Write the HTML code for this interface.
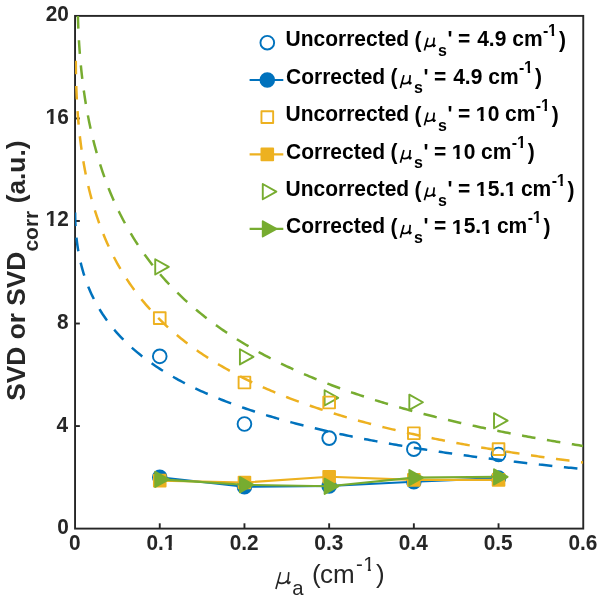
<!DOCTYPE html>
<html><head><meta charset="utf-8"><style>
html,body{margin:0;padding:0;background:#fff;}
svg{display:block;will-change:transform;}
</style></head><body>
<svg width="604" height="603" viewBox="0 0 604 603">
<defs><clipPath id="clip"><rect x="75.05" y="15.9" width="508.20" height="512.70"/></clipPath>
<clipPath id="c1" clipPathUnits="objectBoundingBox"><path d="M-0.5,-0.5 H1.5 V0.665 H0.672 V1.5 H0.405 V0.665 H-0.5 Z"/></clipPath></defs>
<rect width="604" height="603" fill="#fff"/>
<rect x="75.05" y="15.9" width="508.20" height="512.70" fill="none" stroke="#262626" stroke-width="1.9"/>
<line x1="159.75" y1="528.6" x2="159.75" y2="523.3000000000001" stroke="#262626" stroke-width="1.9"/>
<line x1="244.45" y1="528.6" x2="244.45" y2="523.3000000000001" stroke="#262626" stroke-width="1.9"/>
<line x1="329.15" y1="528.6" x2="329.15" y2="523.3000000000001" stroke="#262626" stroke-width="1.9"/>
<line x1="413.85" y1="528.6" x2="413.85" y2="523.3000000000001" stroke="#262626" stroke-width="1.9"/>
<line x1="498.55" y1="528.6" x2="498.55" y2="523.3000000000001" stroke="#262626" stroke-width="1.9"/>
<line x1="75.05" y1="426.06" x2="79.85" y2="426.06" stroke="#262626" stroke-width="1.9"/>
<line x1="75.05" y1="323.52" x2="79.85" y2="323.52" stroke="#262626" stroke-width="1.9"/>
<line x1="75.05" y1="220.98" x2="79.85" y2="220.98" stroke="#262626" stroke-width="1.9"/>
<line x1="75.05" y1="118.44" x2="79.85" y2="118.44" stroke="#262626" stroke-width="1.9"/>
<circle cx="159.75" cy="356.33" r="6.85" fill="none" stroke="#0072BD" stroke-width="1.9"/>
<circle cx="244.45" cy="424.01" r="6.85" fill="none" stroke="#0072BD" stroke-width="1.9"/>
<circle cx="329.15" cy="438.11" r="6.85" fill="none" stroke="#0072BD" stroke-width="1.9"/>
<circle cx="413.85" cy="449.13" r="6.85" fill="none" stroke="#0072BD" stroke-width="1.9"/>
<circle cx="498.55" cy="454.51" r="6.85" fill="none" stroke="#0072BD" stroke-width="1.9"/>
<polyline points="159.75,477.33 244.45,486.81 329.15,486.05 413.85,481.69 498.55,478.10" fill="none" stroke="#0072BD" stroke-width="2.1" stroke-linejoin="round"/>
<circle cx="159.75" cy="477.33" r="6.85" fill="#0072BD" stroke="#0072BD" stroke-width="1.9"/>
<circle cx="244.45" cy="486.81" r="6.85" fill="#0072BD" stroke="#0072BD" stroke-width="1.9"/>
<circle cx="329.15" cy="486.05" r="6.85" fill="#0072BD" stroke="#0072BD" stroke-width="1.9"/>
<circle cx="413.85" cy="481.69" r="6.85" fill="#0072BD" stroke="#0072BD" stroke-width="1.9"/>
<circle cx="498.55" cy="478.10" r="6.85" fill="#0072BD" stroke="#0072BD" stroke-width="1.9"/>
<path d="M155.22,259.27 L168.82,266.87 L155.22,274.47 Z" fill="none" stroke="#77AC30" stroke-width="1.9" stroke-linejoin="round"/>
<path d="M239.92,349.25 L253.52,356.85 L239.92,364.45 Z" fill="none" stroke="#77AC30" stroke-width="1.9" stroke-linejoin="round"/>
<path d="M324.62,390.26 L338.22,397.86 L324.62,405.46 Z" fill="none" stroke="#77AC30" stroke-width="1.9" stroke-linejoin="round"/>
<path d="M409.32,394.62 L422.92,402.22 L409.32,409.82 Z" fill="none" stroke="#77AC30" stroke-width="1.9" stroke-linejoin="round"/>
<path d="M494.02,413.08 L507.62,420.68 L494.02,428.28 Z" fill="none" stroke="#77AC30" stroke-width="1.9" stroke-linejoin="round"/>
<rect x="153.90" y="312.29" width="11.7" height="11.7" fill="none" stroke="#EDB120" stroke-width="1.9" stroke-linejoin="round"/>
<rect x="238.60" y="376.63" width="11.7" height="11.7" fill="none" stroke="#EDB120" stroke-width="1.9" stroke-linejoin="round"/>
<rect x="323.30" y="396.63" width="11.7" height="11.7" fill="none" stroke="#EDB120" stroke-width="1.9" stroke-linejoin="round"/>
<rect x="408.00" y="427.39" width="11.7" height="11.7" fill="none" stroke="#EDB120" stroke-width="1.9" stroke-linejoin="round"/>
<rect x="492.70" y="443.28" width="11.7" height="11.7" fill="none" stroke="#EDB120" stroke-width="1.9" stroke-linejoin="round"/>
<polyline points="159.75,480.66 244.45,482.46 329.15,476.82 413.85,479.89 498.55,479.89" fill="none" stroke="#EDB120" stroke-width="2.1" stroke-linejoin="round"/>
<rect x="153.90" y="474.81" width="11.7" height="11.7" fill="#EDB120" stroke="#EDB120" stroke-width="1.9" stroke-linejoin="round"/>
<rect x="238.60" y="476.61" width="11.7" height="11.7" fill="#EDB120" stroke="#EDB120" stroke-width="1.9" stroke-linejoin="round"/>
<rect x="323.30" y="470.97" width="11.7" height="11.7" fill="#EDB120" stroke="#EDB120" stroke-width="1.9" stroke-linejoin="round"/>
<rect x="408.00" y="474.04" width="11.7" height="11.7" fill="#EDB120" stroke="#EDB120" stroke-width="1.9" stroke-linejoin="round"/>
<rect x="492.70" y="474.04" width="11.7" height="11.7" fill="#EDB120" stroke="#EDB120" stroke-width="1.9" stroke-linejoin="round"/>
<polyline points="159.75,479.38 244.45,484.76 329.15,486.30 413.85,477.59 498.55,476.82" fill="none" stroke="#77AC30" stroke-width="2.1" stroke-linejoin="round"/>
<path d="M155.22,471.78 L168.82,479.38 L155.22,486.98 Z" fill="#77AC30" stroke="#77AC30" stroke-width="1.9" stroke-linejoin="round"/>
<path d="M239.92,477.16 L253.52,484.76 L239.92,492.36 Z" fill="#77AC30" stroke="#77AC30" stroke-width="1.9" stroke-linejoin="round"/>
<path d="M324.62,478.70 L338.22,486.30 L324.62,493.90 Z" fill="#77AC30" stroke="#77AC30" stroke-width="1.9" stroke-linejoin="round"/>
<path d="M409.32,469.99 L422.92,477.59 L409.32,485.19 Z" fill="#77AC30" stroke="#77AC30" stroke-width="1.9" stroke-linejoin="round"/>
<path d="M494.02,469.22 L507.62,476.82 L494.02,484.42 Z" fill="#77AC30" stroke="#77AC30" stroke-width="1.9" stroke-linejoin="round"/>
<g clip-path="url(#clip)" fill="none" stroke-width="2.5" stroke-dasharray="13.6 11.63">
<path d="M75.13,211.26 L75.13,211.32 L75.13,211.35 L75.13,211.37 L75.13,211.39 L75.13,211.41 L75.13,211.43 L75.13,211.45 L75.13,211.46 L75.13,211.48 L75.13,211.50 L75.13,211.52 L75.13,211.53 L75.13,211.55 L75.13,211.57 L75.13,211.59 L75.13,211.61 L75.13,211.63 L75.13,211.64 L75.13,211.66 L75.13,211.69 L75.13,211.71 L75.13,211.73 L75.13,211.75 L75.13,211.77 L75.14,211.80 L75.14,211.82 L75.14,211.85 L75.14,211.87 L75.14,211.90 L75.14,211.93 L75.14,211.96 L75.14,211.99 L75.14,212.02 L75.14,212.05 L75.14,212.08 L75.14,212.12 L75.14,212.15 L75.14,212.19 L75.14,212.23 L75.14,212.27 L75.14,212.31 L75.14,212.35 L75.14,212.40 L75.14,212.44 L75.14,212.49 L75.14,212.54 L75.14,212.59 L75.14,212.64 L75.14,212.70 L75.14,212.76 L75.14,212.82 L75.14,212.88 L75.14,212.94 L75.14,213.01 L75.14,213.08 L75.14,213.15 L75.14,213.22 L75.14,213.30 L75.14,213.38 L75.14,213.47 L75.14,213.55 L75.14,213.64 L75.15,213.74 L75.15,213.83 L75.15,213.93 L75.15,214.04 L75.15,214.15 L75.15,214.26 L75.15,214.37 L75.15,214.50 L75.15,214.62 L75.16,214.75 L75.16,214.89 L75.16,215.03 L75.16,215.18 L75.16,215.33 L75.17,215.49 L75.17,215.65 L75.17,215.82 L75.17,216.00 L75.18,216.18 L75.18,216.37 L75.18,216.57 L75.19,216.77 L75.19,216.99 L75.20,217.21 L75.20,217.44 L75.21,217.68 L75.21,217.93 L75.22,218.18 L75.23,218.45 L75.23,218.73 L75.24,219.01 L75.25,219.31 L75.26,219.62 L75.27,219.94 L75.28,220.28 L75.29,220.62 L75.30,220.98 L75.32,221.35 L75.33,221.74 L75.35,222.14 L75.36,222.56 L75.38,222.99 L75.40,223.44 L75.42,223.90 L75.45,224.39 L75.47,224.89 L75.50,225.41 L75.53,225.94 L75.56,226.50 L75.59,227.08 L75.63,227.68 L75.67,228.30 L75.71,228.95 L75.76,229.62 L75.81,230.31 L75.86,231.03 L75.92,231.77 L75.98,232.54 L76.05,233.34 L76.12,234.17 L76.20,235.03 L76.29,235.92 L76.38,236.84 L76.48,237.79 L76.59,238.78 L76.70,239.80 L76.83,240.86 L76.96,241.96 L77.11,243.09 L77.27,244.26 L77.44,245.48 L77.62,246.73 L77.82,248.03 L78.03,249.37 L78.26,250.76 L78.51,252.19 L78.78,253.68 L79.07,255.21 L79.39,256.79 L79.73,258.43 L80.09,260.11 L80.49,261.86 L80.92,263.65 L81.38,265.51 L81.88,267.42 L82.42,269.40 L83.00,271.43 L83.62,273.53 L84.30,275.69 L85.03,277.91 L85.82,280.21 L86.67,282.56 L87.60,284.99 L88.59,287.49 L89.66,290.05 L90.82,292.69 L92.07,295.40 L94.13,299.57 L96.18,303.46 L98.24,307.09 L100.30,310.52 L102.35,313.75 L104.41,316.82 L106.46,319.74 L108.52,322.53 L110.57,325.20 L112.63,327.76 L114.68,330.21 L116.74,332.58 L118.79,334.86 L120.85,337.06 L122.90,339.19 L124.96,341.25 L127.01,343.24 L129.07,345.18 L131.12,347.06 L133.18,348.88 L135.23,350.66 L137.29,352.39 L139.34,354.07 L141.40,355.71 L143.45,357.31 L145.51,358.87 L147.56,360.40 L149.62,361.89 L151.67,363.35 L153.73,364.77 L155.78,366.17 L157.84,367.53 L159.89,368.87 L161.95,370.18 L164.00,371.46 L166.06,372.72 L168.11,373.96 L170.17,375.17 L172.22,376.36 L174.28,377.52 L176.33,378.67 L178.39,379.80 L180.45,380.90 L182.50,381.99 L184.56,383.06 L186.61,384.11 L188.67,385.15 L190.72,386.16 L192.78,387.16 L194.83,388.15 L196.89,389.12 L198.94,390.08 L201.00,391.02 L203.05,391.95 L205.11,392.86 L207.16,393.76 L209.22,394.65 L211.27,395.52 L213.33,396.39 L215.38,397.24 L217.44,398.08 L219.49,398.90 L221.55,399.72 L223.60,400.53 L225.66,401.32 L227.71,402.11 L229.77,402.88 L231.82,403.65 L233.88,404.40 L235.93,405.15 L237.99,405.88 L240.04,406.61 L242.10,407.33 L244.15,408.04 L246.21,408.74 L248.26,409.44 L250.32,410.12 L252.37,410.80 L254.43,411.47 L256.48,412.13 L258.54,412.79 L260.59,413.43 L262.65,414.07 L264.71,414.71 L266.76,415.33 L268.82,415.95 L270.87,416.56 L272.93,417.17 L274.98,417.77 L277.04,418.36 L279.09,418.95 L281.15,419.53 L283.20,420.11 L285.26,420.68 L287.31,421.24 L289.37,421.80 L291.42,422.35 L293.48,422.90 L295.53,423.44 L297.59,423.98 L299.64,424.51 L301.70,425.03 L303.75,425.55 L305.81,426.07 L307.86,426.58 L309.92,427.09 L311.97,427.59 L314.03,428.09 L316.08,428.58 L318.14,429.07 L320.19,429.55 L322.25,430.03 L324.30,430.50 L326.36,430.98 L328.41,431.44 L330.47,431.90 L332.52,432.36 L334.58,432.82 L336.63,433.27 L338.69,433.71 L340.74,434.16 L342.80,434.59 L344.86,435.03 L346.91,435.46 L348.97,435.89 L351.02,436.31 L353.08,436.73 L355.13,437.15 L357.19,437.57 L359.24,437.98 L361.30,438.38 L363.35,438.79 L365.41,439.19 L367.46,439.58 L369.52,439.98 L371.57,440.37 L373.63,440.76 L375.68,441.14 L377.74,441.53 L379.79,441.90 L381.85,442.28 L383.90,442.65 L385.96,443.02 L388.01,443.39 L390.07,443.76 L392.12,444.12 L394.18,444.48 L396.23,444.84 L398.29,445.19 L400.34,445.54 L402.40,445.89 L404.45,446.24 L406.51,446.58 L408.56,446.92 L410.62,447.26 L412.67,447.60 L414.73,447.93 L416.78,448.26 L418.84,448.59 L420.89,448.92 L422.95,449.24 L425.01,449.56 L427.06,449.88 L429.12,450.20 L431.17,450.52 L433.23,450.83 L435.28,451.14 L437.34,451.45 L439.39,451.76 L441.45,452.06 L443.50,452.37 L445.56,452.67 L447.61,452.97 L449.67,453.26 L451.72,453.56 L453.78,453.85 L455.83,454.14 L457.89,454.43 L459.94,454.72 L462.00,455.00 L464.05,455.29 L466.11,455.57 L468.16,455.85 L470.22,456.13 L472.27,456.40 L474.33,456.68 L476.38,456.95 L478.44,457.22 L480.49,457.49 L482.55,457.76 L484.60,458.02 L486.66,458.29 L488.71,458.55 L490.77,458.81 L492.82,459.07 L494.88,459.33 L496.93,459.58 L498.99,459.84 L501.04,460.09 L503.10,460.34 L505.16,460.59 L507.21,460.84 L509.27,461.09 L511.32,461.33 L513.38,461.58 L515.43,461.82 L517.49,462.06 L519.54,462.30 L521.60,462.54 L523.65,462.77 L525.71,463.01 L527.76,463.24 L529.82,463.48 L531.87,463.71 L533.93,463.94 L535.98,464.17 L538.04,464.39 L540.09,464.62 L542.15,464.84 L544.20,465.07 L546.26,465.29 L548.31,465.51 L550.37,465.73 L552.42,465.95 L554.48,466.17 L556.53,466.38 L558.59,466.60 L560.64,466.81 L562.70,467.02 L564.75,467.23 L566.81,467.44 L568.86,467.65 L570.92,467.86 L572.97,468.07 L575.03,468.27 L577.08,468.48 L579.14,468.68 L581.19,468.88 L583.25,469.08" stroke="#0072BD" stroke-dashoffset="23.93"/>
<path d="M75.79,56.70 L75.79,56.83 L75.79,56.89 L75.79,56.93 L75.79,56.97 L75.79,57.01 L75.79,57.04 L75.79,57.08 L75.79,57.11 L75.79,57.14 L75.79,57.18 L75.79,57.21 L75.79,57.25 L75.79,57.28 L75.79,57.31 L75.79,57.35 L75.79,57.38 L75.79,57.42 L75.79,57.46 L75.79,57.50 L75.79,57.54 L75.79,57.58 L75.79,57.62 L75.79,57.66 L75.79,57.71 L75.79,57.75 L75.79,57.80 L75.79,57.85 L75.79,57.90 L75.79,57.95 L75.79,58.00 L75.79,58.06 L75.79,58.11 L75.79,58.17 L75.79,58.24 L75.79,58.30 L75.79,58.36 L75.79,58.43 L75.79,58.50 L75.79,58.57 L75.79,58.65 L75.79,58.73 L75.79,58.81 L75.79,58.89 L75.79,58.98 L75.79,59.07 L75.79,59.16 L75.79,59.26 L75.79,59.36 L75.79,59.46 L75.79,59.57 L75.79,59.68 L75.79,59.80 L75.79,59.92 L75.79,60.05 L75.79,60.18 L75.79,60.31 L75.79,60.45 L75.79,60.59 L75.79,60.74 L75.79,60.90 L75.79,61.06 L75.79,61.23 L75.80,61.40 L75.80,61.59 L75.80,61.77 L75.80,61.97 L75.80,62.17 L75.80,62.38 L75.80,62.60 L75.80,62.82 L75.80,63.06 L75.81,63.30 L75.81,63.55 L75.81,63.81 L75.81,64.08 L75.81,64.36 L75.82,64.66 L75.82,64.96 L75.82,65.27 L75.82,65.60 L75.83,65.94 L75.83,66.29 L75.83,66.65 L75.84,67.03 L75.84,67.42 L75.85,67.83 L75.85,68.25 L75.86,68.69 L75.86,69.14 L75.87,69.61 L75.88,70.10 L75.88,70.61 L75.89,71.13 L75.90,71.67 L75.91,72.24 L75.92,72.82 L75.93,73.43 L75.94,74.06 L75.95,74.71 L75.97,75.39 L75.98,76.09 L76.00,76.82 L76.02,77.57 L76.03,78.35 L76.05,79.16 L76.07,80.00 L76.10,80.87 L76.12,81.78 L76.15,82.71 L76.18,83.68 L76.21,84.68 L76.24,85.72 L76.28,86.79 L76.32,87.91 L76.36,89.06 L76.41,90.26 L76.46,91.50 L76.51,92.78 L76.57,94.10 L76.63,95.47 L76.70,96.90 L76.77,98.37 L76.85,99.89 L76.94,101.46 L77.03,103.09 L77.13,104.77 L77.24,106.51 L77.35,108.31 L77.48,110.18 L77.61,112.10 L77.76,114.09 L77.92,116.14 L78.09,118.26 L78.27,120.46 L78.47,122.72 L78.68,125.06 L78.91,127.47 L79.16,129.96 L79.43,132.53 L79.72,135.18 L80.04,137.91 L80.38,140.73 L80.74,143.63 L81.14,146.62 L81.57,149.70 L82.03,152.88 L82.53,156.14 L83.07,159.51 L83.65,162.97 L84.27,166.52 L84.95,170.18 L85.68,173.94 L86.47,177.80 L87.33,181.76 L88.25,185.83 L89.24,190.00 L90.31,194.28 L91.47,198.67 L92.72,203.16 L94.78,210.05 L96.83,216.44 L98.88,222.40 L100.93,227.99 L102.99,233.25 L105.04,238.23 L107.09,242.95 L109.14,247.45 L111.20,251.73 L113.25,255.83 L115.30,259.76 L117.35,263.54 L119.41,267.16 L121.46,270.66 L123.51,274.02 L125.56,277.28 L127.62,280.42 L129.67,283.47 L131.72,286.41 L133.77,289.27 L135.83,292.05 L137.88,294.75 L139.93,297.37 L141.98,299.92 L144.04,302.40 L146.09,304.82 L148.14,307.18 L150.19,309.48 L152.24,311.72 L154.30,313.91 L156.35,316.05 L158.40,318.14 L160.45,320.19 L162.51,322.19 L164.56,324.14 L166.61,326.06 L168.66,327.94 L170.72,329.77 L172.77,331.58 L174.82,333.34 L176.87,335.07 L178.93,336.77 L180.98,338.44 L183.03,340.08 L185.08,341.68 L187.14,343.26 L189.19,344.81 L191.24,346.34 L193.29,347.83 L195.35,349.30 L197.40,350.75 L199.45,352.17 L201.50,353.57 L203.55,354.95 L205.61,356.30 L207.66,357.64 L209.71,358.95 L211.76,360.24 L213.82,361.52 L215.87,362.77 L217.92,364.01 L219.97,365.22 L222.03,366.42 L224.08,367.60 L226.13,368.77 L228.18,369.92 L230.24,371.05 L232.29,372.17 L234.34,373.27 L236.39,374.36 L238.45,375.43 L240.50,376.49 L242.55,377.53 L244.60,378.56 L246.66,379.58 L248.71,380.58 L250.76,381.58 L252.81,382.55 L254.87,383.52 L256.92,384.48 L258.97,385.42 L261.02,386.35 L263.07,387.27 L265.13,388.18 L267.18,389.08 L269.23,389.97 L271.28,390.84 L273.34,391.71 L275.39,392.57 L277.44,393.41 L279.49,394.25 L281.55,395.08 L283.60,395.90 L285.65,396.71 L287.70,397.51 L289.76,398.30 L291.81,399.09 L293.86,399.86 L295.91,400.63 L297.97,401.39 L300.02,402.14 L302.07,402.88 L304.12,403.61 L306.18,404.34 L308.23,405.06 L310.28,405.77 L312.33,406.48 L314.38,407.18 L316.44,407.87 L318.49,408.55 L320.54,409.23 L322.59,409.90 L324.65,410.56 L326.70,411.22 L328.75,411.87 L330.80,412.52 L332.86,413.16 L334.91,413.79 L336.96,414.41 L339.01,415.04 L341.07,415.65 L343.12,416.26 L345.17,416.86 L347.22,417.46 L349.28,418.05 L351.33,418.64 L353.38,419.22 L355.43,419.80 L357.49,420.37 L359.54,420.94 L361.59,421.50 L363.64,422.05 L365.69,422.60 L367.75,423.15 L369.80,423.69 L371.85,424.23 L373.90,424.76 L375.96,425.29 L378.01,425.81 L380.06,426.33 L382.11,426.85 L384.17,427.36 L386.22,427.86 L388.27,428.36 L390.32,428.86 L392.38,429.36 L394.43,429.84 L396.48,430.33 L398.53,430.81 L400.59,431.29 L402.64,431.76 L404.69,432.23 L406.74,432.70 L408.80,433.16 L410.85,433.62 L412.90,434.07 L414.95,434.53 L417.01,434.97 L419.06,435.42 L421.11,435.86 L423.16,436.30 L425.21,436.73 L427.27,437.16 L429.32,437.59 L431.37,438.01 L433.42,438.43 L435.48,438.85 L437.53,439.27 L439.58,439.68 L441.63,440.09 L443.69,440.49 L445.74,440.90 L447.79,441.30 L449.84,441.69 L451.90,442.09 L453.95,442.48 L456.00,442.86 L458.05,443.25 L460.11,443.63 L462.16,444.01 L464.21,444.39 L466.26,444.76 L468.32,445.13 L470.37,445.50 L472.42,445.87 L474.47,446.23 L476.52,446.60 L478.58,446.95 L480.63,447.31 L482.68,447.66 L484.73,448.02 L486.79,448.36 L488.84,448.71 L490.89,449.05 L492.94,449.40 L495.00,449.74 L497.05,450.07 L499.10,450.41 L501.15,450.74 L503.21,451.07 L505.26,451.40 L507.31,451.73 L509.36,452.05 L511.42,452.37 L513.47,452.69 L515.52,453.01 L517.57,453.32 L519.63,453.64 L521.68,453.95 L523.73,454.26 L525.78,454.57 L527.84,454.87 L529.89,455.17 L531.94,455.48 L533.99,455.78 L536.04,456.07 L538.10,456.37 L540.15,456.66 L542.20,456.95 L544.25,457.24 L546.31,457.53 L548.36,457.82 L550.41,458.10 L552.46,458.39 L554.52,458.67 L556.57,458.95 L558.62,459.23 L560.67,459.50 L562.73,459.78 L564.78,460.05 L566.83,460.32 L568.88,460.59 L570.94,460.86 L572.99,461.12 L575.04,461.39 L577.09,461.65 L579.15,461.91 L581.20,462.17 L583.25,462.43" stroke="#EDB120" stroke-dashoffset="21.23"/>
<path d="M77.62,-5.93 L77.62,-5.83 L77.62,-5.79 L77.62,-5.75 L77.62,-5.72 L77.62,-5.69 L77.62,-5.66 L77.62,-5.63 L77.62,-5.60 L77.62,-5.57 L77.62,-5.54 L77.62,-5.52 L77.62,-5.49 L77.62,-5.46 L77.62,-5.43 L77.62,-5.40 L77.62,-5.37 L77.62,-5.34 L77.62,-5.31 L77.62,-5.27 L77.62,-5.24 L77.62,-5.20 L77.62,-5.17 L77.62,-5.13 L77.62,-5.09 L77.62,-5.05 L77.62,-5.01 L77.62,-4.97 L77.62,-4.93 L77.62,-4.88 L77.62,-4.84 L77.62,-4.79 L77.62,-4.74 L77.62,-4.69 L77.62,-4.63 L77.62,-4.58 L77.62,-4.52 L77.62,-4.46 L77.62,-4.40 L77.62,-4.33 L77.62,-4.27 L77.62,-4.20 L77.62,-4.12 L77.62,-4.05 L77.62,-3.97 L77.62,-3.89 L77.62,-3.81 L77.62,-3.72 L77.62,-3.63 L77.62,-3.54 L77.62,-3.44 L77.62,-3.34 L77.63,-3.23 L77.63,-3.13 L77.63,-3.01 L77.63,-2.89 L77.63,-2.77 L77.63,-2.65 L77.63,-2.51 L77.63,-2.38 L77.63,-2.23 L77.63,-2.09 L77.63,-1.93 L77.63,-1.77 L77.63,-1.61 L77.63,-1.43 L77.63,-1.25 L77.63,-1.07 L77.64,-0.87 L77.64,-0.67 L77.64,-0.46 L77.64,-0.25 L77.64,-0.02 L77.64,0.21 L77.65,0.46 L77.65,0.71 L77.65,0.98 L77.65,1.25 L77.65,1.53 L77.66,1.83 L77.66,2.14 L77.66,2.46 L77.67,2.79 L77.67,3.13 L77.67,3.49 L77.68,3.86 L77.68,4.25 L77.69,4.65 L77.69,5.07 L77.70,5.50 L77.71,5.95 L77.71,6.42 L77.72,6.90 L77.73,7.41 L77.74,7.93 L77.74,8.48 L77.75,9.04 L77.77,9.63 L77.78,10.24 L77.79,10.87 L77.80,11.53 L77.82,12.22 L77.83,12.93 L77.85,13.66 L77.87,14.43 L77.89,15.22 L77.91,16.05 L77.93,16.90 L77.96,17.79 L77.99,18.71 L78.01,19.67 L78.05,20.66 L78.08,21.69 L78.12,22.76 L78.16,23.87 L78.20,25.02 L78.24,26.22 L78.29,27.46 L78.35,28.74 L78.41,30.07 L78.47,31.45 L78.54,32.89 L78.61,34.37 L78.69,35.91 L78.77,37.51 L78.87,39.16 L78.97,40.87 L79.07,42.65 L79.19,44.49 L79.31,46.39 L79.45,48.37 L79.59,50.41 L79.75,52.52 L79.92,54.71 L80.11,56.98 L80.30,59.32 L80.52,61.75 L80.75,64.26 L81.00,66.85 L81.27,69.53 L81.56,72.31 L81.87,75.17 L82.21,78.13 L82.58,81.19 L82.98,84.34 L83.40,87.60 L83.86,90.96 L84.36,94.43 L84.90,98.01 L85.48,101.70 L86.11,105.50 L86.79,109.42 L87.52,113.46 L88.31,117.61 L89.16,121.89 L90.08,126.29 L91.08,130.81 L92.15,135.46 L93.31,140.24 L94.56,145.15 L96.61,152.67 L98.65,159.66 L100.69,166.21 L102.74,172.37 L104.78,178.19 L106.83,183.71 L108.87,188.96 L110.92,193.96 L112.96,198.75 L115.01,203.33 L117.05,207.74 L119.10,211.97 L121.14,216.05 L123.19,219.99 L125.23,223.79 L127.28,227.46 L129.32,231.03 L131.37,234.48 L133.41,237.82 L135.46,241.07 L137.50,244.23 L139.54,247.31 L141.59,250.30 L143.63,253.21 L145.68,256.05 L147.72,258.82 L149.77,261.52 L151.81,264.16 L153.86,266.74 L155.90,269.26 L157.95,271.72 L159.99,274.13 L162.04,276.49 L164.08,278.79 L166.13,281.06 L168.17,283.27 L170.22,285.44 L172.26,287.57 L174.30,289.66 L176.35,291.71 L178.39,293.72 L180.44,295.69 L182.48,297.63 L184.53,299.54 L186.57,301.41 L188.62,303.25 L190.66,305.05 L192.71,306.83 L194.75,308.58 L196.80,310.30 L198.84,311.99 L200.89,313.65 L202.93,315.29 L204.98,316.90 L207.02,318.49 L209.07,320.05 L211.11,321.60 L213.15,323.11 L215.20,324.61 L217.24,326.08 L219.29,327.54 L221.33,328.97 L223.38,330.38 L225.42,331.77 L227.47,333.15 L229.51,334.50 L231.56,335.84 L233.60,337.16 L235.65,338.46 L237.69,339.74 L239.74,341.01 L241.78,342.26 L243.83,343.50 L245.87,344.72 L247.91,345.92 L249.96,347.11 L252.00,348.29 L254.05,349.45 L256.09,350.59 L258.14,351.73 L260.18,352.85 L262.23,353.95 L264.27,355.05 L266.32,356.13 L268.36,357.20 L270.41,358.25 L272.45,359.30 L274.50,360.33 L276.54,361.35 L278.59,362.36 L280.63,363.36 L282.68,364.35 L284.72,365.32 L286.76,366.29 L288.81,367.25 L290.85,368.19 L292.90,369.13 L294.94,370.05 L296.99,370.97 L299.03,371.88 L301.08,372.78 L303.12,373.67 L305.17,374.55 L307.21,375.42 L309.26,376.28 L311.30,377.13 L313.35,377.98 L315.39,378.82 L317.44,379.64 L319.48,380.47 L321.53,381.28 L323.57,382.08 L325.61,382.88 L327.66,383.67 L329.70,384.45 L331.75,385.23 L333.79,386.00 L335.84,386.76 L337.88,387.51 L339.93,388.26 L341.97,389.00 L344.02,389.73 L346.06,390.46 L348.11,391.18 L350.15,391.90 L352.20,392.60 L354.24,393.30 L356.29,394.00 L358.33,394.69 L360.37,395.37 L362.42,396.05 L364.46,396.72 L366.51,397.39 L368.55,398.05 L370.60,398.70 L372.64,399.35 L374.69,400.00 L376.73,400.63 L378.78,401.27 L380.82,401.90 L382.87,402.52 L384.91,403.14 L386.96,403.75 L389.00,404.36 L391.05,404.96 L393.09,405.56 L395.14,406.15 L397.18,406.74 L399.22,407.32 L401.27,407.90 L403.31,408.48 L405.36,409.05 L407.40,409.61 L409.45,410.17 L411.49,410.73 L413.54,411.28 L415.58,411.83 L417.63,412.37 L419.67,412.91 L421.72,413.45 L423.76,413.98 L425.81,414.51 L427.85,415.03 L429.90,415.55 L431.94,416.07 L433.99,416.58 L436.03,417.09 L438.07,417.60 L440.12,418.10 L442.16,418.60 L444.21,419.09 L446.25,419.58 L448.30,420.07 L450.34,420.55 L452.39,421.03 L454.43,421.51 L456.48,421.98 L458.52,422.45 L460.57,422.92 L462.61,423.38 L464.66,423.84 L466.70,424.30 L468.75,424.75 L470.79,425.20 L472.83,425.65 L474.88,426.09 L476.92,426.54 L478.97,426.97 L481.01,427.41 L483.06,427.84 L485.10,428.27 L487.15,428.70 L489.19,429.12 L491.24,429.54 L493.28,429.96 L495.33,430.38 L497.37,430.79 L499.42,431.20 L501.46,431.61 L503.51,432.01 L505.55,432.41 L507.60,432.81 L509.64,433.21 L511.68,433.60 L513.73,434.00 L515.77,434.38 L517.82,434.77 L519.86,435.16 L521.91,435.54 L523.95,435.92 L526.00,436.29 L528.04,436.67 L530.09,437.04 L532.13,437.41 L534.18,437.78 L536.22,438.14 L538.27,438.51 L540.31,438.87 L542.36,439.23 L544.40,439.58 L546.44,439.94 L548.49,440.29 L550.53,440.64 L552.58,440.99 L554.62,441.33 L556.67,441.68 L558.71,442.02 L560.76,442.36 L562.80,442.69 L564.85,443.03 L566.89,443.36 L568.94,443.69 L570.98,444.02 L573.03,444.35 L575.07,444.68 L577.12,445.00 L579.16,445.32 L581.21,445.64 L583.25,445.96" stroke="#77AC30" stroke-dashoffset="4.23"/>
</g>
<circle cx="267.30" cy="42.70" r="6.85" fill="none" stroke="#0072BD" stroke-width="1.9"/>
<line x1="249.6" y1="79.93" x2="283.3" y2="79.93" stroke="#0072BD" stroke-width="2.1"/>
<circle cx="267.30" cy="79.93" r="6.85" fill="#0072BD" stroke="#0072BD" stroke-width="1.9"/>
<rect x="261.45" y="111.31" width="11.7" height="11.7" fill="none" stroke="#EDB120" stroke-width="1.9" stroke-linejoin="round"/>
<line x1="249.6" y1="154.39" x2="283.3" y2="154.39" stroke="#EDB120" stroke-width="2.1"/>
<rect x="261.45" y="148.54" width="11.7" height="11.7" fill="#EDB120" stroke="#EDB120" stroke-width="1.9" stroke-linejoin="round"/>
<path d="M262.77,184.02 L276.37,191.62 L262.77,199.22 Z" fill="none" stroke="#77AC30" stroke-width="1.9" stroke-linejoin="round"/>
<line x1="249.6" y1="228.85" x2="283.3" y2="228.85" stroke="#77AC30" stroke-width="2.1"/>
<path d="M262.77,221.25 L276.37,228.85 L262.77,236.45 Z" fill="#77AC30" stroke="#77AC30" stroke-width="1.9" stroke-linejoin="round"/>
<g style="font-family:Liberation Sans;font-size:20.8px;font-weight:bold;font-style:normal" fill="#262626" transform="translate(0,549.70) scale(1,1.04) translate(0,-549.70)"><text x="69.00" y="549.70">0</text></g>
<g style="font-family:Liberation Sans;font-size:20.8px;font-weight:bold;font-style:normal" fill="#262626" transform="translate(0,549.70) scale(1,1.04) translate(0,-549.70)"><text x="146.53" y="549.70">0.</text></g>
<text x="163.63" y="549.70" style="font-family:Liberation Sans;font-size:21.632px;font-weight:bold;font-style:normal" fill="#262626" clip-path="url(#c1)">1</text>
<g style="font-family:Liberation Sans;font-size:20.8px;font-weight:bold;font-style:normal" fill="#262626" transform="translate(0,549.70) scale(1,1.04) translate(0,-549.70)"><text x="229.77" y="549.70">0.2</text></g>
<g style="font-family:Liberation Sans;font-size:20.8px;font-weight:bold;font-style:normal" fill="#262626" transform="translate(0,549.70) scale(1,1.04) translate(0,-549.70)"><text x="314.35" y="549.70">0.3</text></g>
<g style="font-family:Liberation Sans;font-size:20.8px;font-weight:bold;font-style:normal" fill="#262626" transform="translate(0,549.70) scale(1,1.04) translate(0,-549.70)"><text x="398.80" y="549.70">0.4</text></g>
<g style="font-family:Liberation Sans;font-size:20.8px;font-weight:bold;font-style:normal" fill="#262626" transform="translate(0,549.70) scale(1,1.04) translate(0,-549.70)"><text x="483.75" y="549.70">0.5</text></g>
<g style="font-family:Liberation Sans;font-size:20.8px;font-weight:bold;font-style:normal" fill="#262626" transform="translate(0,549.70) scale(1,1.04) translate(0,-549.70)"><text x="568.45" y="549.70">0.6</text></g>
<g style="font-family:Liberation Sans;font-size:20.8px;font-weight:bold;font-style:normal" fill="#262626" transform="translate(0,534.10) scale(1,1.04) translate(0,-534.10)"><text x="57.25" y="534.10">0</text></g>
<g style="font-family:Liberation Sans;font-size:20.8px;font-weight:bold;font-style:normal" fill="#262626" transform="translate(0,431.56) scale(1,1.04) translate(0,-431.56)"><text x="56.50" y="431.56">4</text></g>
<g style="font-family:Liberation Sans;font-size:20.8px;font-weight:bold;font-style:normal" fill="#262626" transform="translate(0,329.02) scale(1,1.04) translate(0,-329.02)"><text x="57.00" y="329.02">8</text></g>
<g style="font-family:Liberation Sans;font-size:20.8px;font-weight:bold;font-style:normal" fill="#262626" transform="translate(0,226.48) scale(1,1.04) translate(0,-226.48)"><text x="57.25" y="226.48">2</text></g>
<text x="45.44" y="226.48" style="font-family:Liberation Sans;font-size:21.632px;font-weight:bold;font-style:normal" fill="#262626" clip-path="url(#c1)">1</text>
<g style="font-family:Liberation Sans;font-size:20.8px;font-weight:bold;font-style:normal" fill="#262626" transform="translate(0,123.94) scale(1,1.04) translate(0,-123.94)"><text x="57.25" y="123.94">6</text></g>
<text x="45.44" y="123.94" style="font-family:Liberation Sans;font-size:21.632px;font-weight:bold;font-style:normal" fill="#262626" clip-path="url(#c1)">1</text>
<g style="font-family:Liberation Sans;font-size:20.8px;font-weight:bold;font-style:normal" fill="#262626" transform="translate(0,21.40) scale(1,1.04) translate(0,-21.40)"><text x="45.75" y="21.40">20</text></g>
<g style="font-family:Liberation Sans;font-size:21px;font-weight:bold;font-style:normal" fill="#000000" transform="translate(0,46.30) scale(1,1.05) translate(0,-46.30)"><text x="285.55" y="46.30">Uncorrected</text></g>
<g style="font-family:Liberation Sans;font-size:21px;font-weight:bold;font-style:normal" fill="#000000" transform="translate(0,39.80) scale(1,1.07) translate(0,-39.80)"><text x="414.50" y="46.30">(</text></g>
<path d="M0.27,-1 L-0.14,0.49 M0.06,-0.22 C0.04,0.06 0.62,0.10 0.91,-0.28 M1.0,-1 L0.91,-0.12 Q0.90,0.03 1.0,0.0 L1.14,-0.16" transform="translate(425.60,46.30) scale(8.6)" fill="none" stroke="#000000" stroke-width="0.1977" stroke-linecap="butt" stroke-linejoin="round"/>
<g style="font-family:Liberation Sans;font-size:16px;font-weight:bold;font-style:normal" fill="#000000" transform="translate(0,55.90) scale(1,1.04) translate(0,-55.90)"><text x="438.05" y="55.90">s</text></g>
<g style="font-family:Liberation Sans;font-size:21px;font-weight:bold;font-style:normal" fill="#000000" transform="translate(0,46.30) scale(1,1.05) translate(0,-46.30)"><text x="447.40" y="46.30">'</text></g>
<g style="font-family:Liberation Sans;font-size:21px;font-weight:bold;font-style:normal" fill="#000000" transform="translate(0,46.30) scale(1,1.05) translate(0,-46.30)"><text x="458.05" y="46.30">=</text></g>
<g style="font-family:Liberation Sans;font-size:21px;font-weight:bold;font-style:normal" fill="#000000" transform="translate(0,46.30) scale(1,1.05) translate(0,-46.30)"><text x="477.15" y="46.30">4.9</text></g>
<g style="font-family:Liberation Sans;font-size:21px;font-weight:bold;font-style:normal" fill="#000000" transform="translate(0,46.30) scale(1,1.05) translate(0,-46.30)"><text x="512.30" y="46.30">cm</text></g>
<g style="font-family:Liberation Sans;font-size:16px;font-weight:bold;font-style:normal" fill="#000000" transform="translate(0,35.80) scale(1,1.04) translate(0,-35.80)"><text x="543.10" y="35.80">-</text></g>
<text x="548.11" y="35.80" style="font-family:Liberation Sans;font-size:16px;font-weight:bold;font-style:normal" fill="#000000" clip-path="url(#c1)">1</text>
<g style="font-family:Liberation Sans;font-size:21px;font-weight:bold;font-style:normal" fill="#000000" transform="translate(0,39.80) scale(1,1.07) translate(0,-39.80)"><text x="558.95" y="46.30">)</text></g>
<g style="font-family:Liberation Sans;font-size:21px;font-weight:bold;font-style:normal" fill="#000000" transform="translate(0,83.74) scale(1,1.05) translate(0,-83.74)"><text x="286.05" y="83.74">Corrected</text></g>
<g style="font-family:Liberation Sans;font-size:21px;font-weight:bold;font-style:normal" fill="#000000" transform="translate(0,77.24) scale(1,1.07) translate(0,-77.24)"><text x="390.50" y="83.74">(</text></g>
<path d="M0.27,-1 L-0.14,0.49 M0.06,-0.22 C0.04,0.06 0.62,0.10 0.91,-0.28 M1.0,-1 L0.91,-0.12 Q0.90,0.03 1.0,0.0 L1.14,-0.16" transform="translate(401.60,83.74) scale(8.6)" fill="none" stroke="#000000" stroke-width="0.1977" stroke-linecap="butt" stroke-linejoin="round"/>
<g style="font-family:Liberation Sans;font-size:16px;font-weight:bold;font-style:normal" fill="#000000" transform="translate(0,93.34) scale(1,1.04) translate(0,-93.34)"><text x="414.05" y="93.34">s</text></g>
<g style="font-family:Liberation Sans;font-size:21px;font-weight:bold;font-style:normal" fill="#000000" transform="translate(0,83.74) scale(1,1.05) translate(0,-83.74)"><text x="423.40" y="83.74">'</text></g>
<g style="font-family:Liberation Sans;font-size:21px;font-weight:bold;font-style:normal" fill="#000000" transform="translate(0,83.74) scale(1,1.05) translate(0,-83.74)"><text x="434.05" y="83.74">=</text></g>
<g style="font-family:Liberation Sans;font-size:21px;font-weight:bold;font-style:normal" fill="#000000" transform="translate(0,83.74) scale(1,1.05) translate(0,-83.74)"><text x="453.15" y="83.74">4.9</text></g>
<g style="font-family:Liberation Sans;font-size:21px;font-weight:bold;font-style:normal" fill="#000000" transform="translate(0,83.74) scale(1,1.05) translate(0,-83.74)"><text x="488.30" y="83.74">cm</text></g>
<g style="font-family:Liberation Sans;font-size:16px;font-weight:bold;font-style:normal" fill="#000000" transform="translate(0,73.24) scale(1,1.04) translate(0,-73.24)"><text x="519.10" y="73.24">-</text></g>
<text x="524.11" y="73.24" style="font-family:Liberation Sans;font-size:16px;font-weight:bold;font-style:normal" fill="#000000" clip-path="url(#c1)">1</text>
<g style="font-family:Liberation Sans;font-size:21px;font-weight:bold;font-style:normal" fill="#000000" transform="translate(0,77.24) scale(1,1.07) translate(0,-77.24)"><text x="534.95" y="83.74">)</text></g>
<g style="font-family:Liberation Sans;font-size:21px;font-weight:bold;font-style:normal" fill="#000000" transform="translate(0,121.18) scale(1,1.05) translate(0,-121.18)"><text x="285.55" y="121.18">Uncorrected</text></g>
<g style="font-family:Liberation Sans;font-size:21px;font-weight:bold;font-style:normal" fill="#000000" transform="translate(0,114.68) scale(1,1.07) translate(0,-114.68)"><text x="414.50" y="121.18">(</text></g>
<path d="M0.27,-1 L-0.14,0.49 M0.06,-0.22 C0.04,0.06 0.62,0.10 0.91,-0.28 M1.0,-1 L0.91,-0.12 Q0.90,0.03 1.0,0.0 L1.14,-0.16" transform="translate(425.60,121.18) scale(8.6)" fill="none" stroke="#000000" stroke-width="0.1977" stroke-linecap="butt" stroke-linejoin="round"/>
<g style="font-family:Liberation Sans;font-size:16px;font-weight:bold;font-style:normal" fill="#000000" transform="translate(0,130.78) scale(1,1.04) translate(0,-130.78)"><text x="438.05" y="130.78">s</text></g>
<g style="font-family:Liberation Sans;font-size:21px;font-weight:bold;font-style:normal" fill="#000000" transform="translate(0,121.18) scale(1,1.05) translate(0,-121.18)"><text x="447.40" y="121.18">'</text></g>
<g style="font-family:Liberation Sans;font-size:21px;font-weight:bold;font-style:normal" fill="#000000" transform="translate(0,121.18) scale(1,1.05) translate(0,-121.18)"><text x="458.05" y="121.18">=</text></g>
<g style="font-family:Liberation Sans;font-size:21px;font-weight:bold;font-style:normal" fill="#000000" transform="translate(0,121.18) scale(1,1.05) translate(0,-121.18)"><text x="487.68" y="121.18">0</text></g>
<text x="475.68" y="121.18" style="font-family:Liberation Sans;font-size:21px;font-weight:bold;font-style:normal" fill="#000000" clip-path="url(#c1)">1</text>
<g style="font-family:Liberation Sans;font-size:21px;font-weight:bold;font-style:normal" fill="#000000" transform="translate(0,121.18) scale(1,1.05) translate(0,-121.18)"><text x="505.08" y="121.18">cm</text></g>
<g style="font-family:Liberation Sans;font-size:16px;font-weight:bold;font-style:normal" fill="#000000" transform="translate(0,110.68) scale(1,1.04) translate(0,-110.68)"><text x="535.88" y="110.68">-</text></g>
<text x="540.88" y="110.68" style="font-family:Liberation Sans;font-size:16px;font-weight:bold;font-style:normal" fill="#000000" clip-path="url(#c1)">1</text>
<g style="font-family:Liberation Sans;font-size:21px;font-weight:bold;font-style:normal" fill="#000000" transform="translate(0,114.68) scale(1,1.07) translate(0,-114.68)"><text x="551.73" y="121.18">)</text></g>
<g style="font-family:Liberation Sans;font-size:21px;font-weight:bold;font-style:normal" fill="#000000" transform="translate(0,158.62) scale(1,1.05) translate(0,-158.62)"><text x="286.05" y="158.62">Corrected</text></g>
<g style="font-family:Liberation Sans;font-size:21px;font-weight:bold;font-style:normal" fill="#000000" transform="translate(0,152.12) scale(1,1.07) translate(0,-152.12)"><text x="390.50" y="158.62">(</text></g>
<path d="M0.27,-1 L-0.14,0.49 M0.06,-0.22 C0.04,0.06 0.62,0.10 0.91,-0.28 M1.0,-1 L0.91,-0.12 Q0.90,0.03 1.0,0.0 L1.14,-0.16" transform="translate(401.60,158.62) scale(8.6)" fill="none" stroke="#000000" stroke-width="0.1977" stroke-linecap="butt" stroke-linejoin="round"/>
<g style="font-family:Liberation Sans;font-size:16px;font-weight:bold;font-style:normal" fill="#000000" transform="translate(0,168.22) scale(1,1.04) translate(0,-168.22)"><text x="414.05" y="168.22">s</text></g>
<g style="font-family:Liberation Sans;font-size:21px;font-weight:bold;font-style:normal" fill="#000000" transform="translate(0,158.62) scale(1,1.05) translate(0,-158.62)"><text x="423.40" y="158.62">'</text></g>
<g style="font-family:Liberation Sans;font-size:21px;font-weight:bold;font-style:normal" fill="#000000" transform="translate(0,158.62) scale(1,1.05) translate(0,-158.62)"><text x="434.05" y="158.62">=</text></g>
<g style="font-family:Liberation Sans;font-size:21px;font-weight:bold;font-style:normal" fill="#000000" transform="translate(0,158.62) scale(1,1.05) translate(0,-158.62)"><text x="463.68" y="158.62">0</text></g>
<text x="451.68" y="158.62" style="font-family:Liberation Sans;font-size:21px;font-weight:bold;font-style:normal" fill="#000000" clip-path="url(#c1)">1</text>
<g style="font-family:Liberation Sans;font-size:21px;font-weight:bold;font-style:normal" fill="#000000" transform="translate(0,158.62) scale(1,1.05) translate(0,-158.62)"><text x="481.08" y="158.62">cm</text></g>
<g style="font-family:Liberation Sans;font-size:16px;font-weight:bold;font-style:normal" fill="#000000" transform="translate(0,148.12) scale(1,1.04) translate(0,-148.12)"><text x="511.88" y="148.12">-</text></g>
<text x="516.88" y="148.12" style="font-family:Liberation Sans;font-size:16px;font-weight:bold;font-style:normal" fill="#000000" clip-path="url(#c1)">1</text>
<g style="font-family:Liberation Sans;font-size:21px;font-weight:bold;font-style:normal" fill="#000000" transform="translate(0,152.12) scale(1,1.07) translate(0,-152.12)"><text x="527.73" y="158.62">)</text></g>
<g style="font-family:Liberation Sans;font-size:21px;font-weight:bold;font-style:normal" fill="#000000" transform="translate(0,196.06) scale(1,1.05) translate(0,-196.06)"><text x="285.55" y="196.06">Uncorrected</text></g>
<g style="font-family:Liberation Sans;font-size:21px;font-weight:bold;font-style:normal" fill="#000000" transform="translate(0,189.56) scale(1,1.07) translate(0,-189.56)"><text x="414.50" y="196.06">(</text></g>
<path d="M0.27,-1 L-0.14,0.49 M0.06,-0.22 C0.04,0.06 0.62,0.10 0.91,-0.28 M1.0,-1 L0.91,-0.12 Q0.90,0.03 1.0,0.0 L1.14,-0.16" transform="translate(425.60,196.06) scale(8.6)" fill="none" stroke="#000000" stroke-width="0.1977" stroke-linecap="butt" stroke-linejoin="round"/>
<g style="font-family:Liberation Sans;font-size:16px;font-weight:bold;font-style:normal" fill="#000000" transform="translate(0,205.66) scale(1,1.04) translate(0,-205.66)"><text x="438.05" y="205.66">s</text></g>
<g style="font-family:Liberation Sans;font-size:21px;font-weight:bold;font-style:normal" fill="#000000" transform="translate(0,196.06) scale(1,1.05) translate(0,-196.06)"><text x="447.40" y="196.06">'</text></g>
<g style="font-family:Liberation Sans;font-size:21px;font-weight:bold;font-style:normal" fill="#000000" transform="translate(0,196.06) scale(1,1.05) translate(0,-196.06)"><text x="458.05" y="196.06">=</text></g>
<g style="font-family:Liberation Sans;font-size:21px;font-weight:bold;font-style:normal" fill="#000000" transform="translate(0,196.06) scale(1,1.05) translate(0,-196.06)"><text x="487.68" y="196.06">5.</text></g>
<text x="475.68" y="196.06" style="font-family:Liberation Sans;font-size:21px;font-weight:bold;font-style:normal" fill="#000000" clip-path="url(#c1)">1</text>
<text x="504.87" y="196.06" style="font-family:Liberation Sans;font-size:21px;font-weight:bold;font-style:normal" fill="#000000" clip-path="url(#c1)">1</text>
<g style="font-family:Liberation Sans;font-size:21px;font-weight:bold;font-style:normal" fill="#000000" transform="translate(0,196.06) scale(1,1.05) translate(0,-196.06)"><text x="520.95" y="196.06">cm</text></g>
<g style="font-family:Liberation Sans;font-size:16px;font-weight:bold;font-style:normal" fill="#000000" transform="translate(0,185.56) scale(1,1.04) translate(0,-185.56)"><text x="551.75" y="185.56">-</text></g>
<text x="556.76" y="185.56" style="font-family:Liberation Sans;font-size:16px;font-weight:bold;font-style:normal" fill="#000000" clip-path="url(#c1)">1</text>
<g style="font-family:Liberation Sans;font-size:21px;font-weight:bold;font-style:normal" fill="#000000" transform="translate(0,189.56) scale(1,1.07) translate(0,-189.56)"><text x="567.60" y="196.06">)</text></g>
<g style="font-family:Liberation Sans;font-size:21px;font-weight:bold;font-style:normal" fill="#000000" transform="translate(0,233.50) scale(1,1.05) translate(0,-233.50)"><text x="286.05" y="233.50">Corrected</text></g>
<g style="font-family:Liberation Sans;font-size:21px;font-weight:bold;font-style:normal" fill="#000000" transform="translate(0,227.00) scale(1,1.07) translate(0,-227.00)"><text x="390.50" y="233.50">(</text></g>
<path d="M0.27,-1 L-0.14,0.49 M0.06,-0.22 C0.04,0.06 0.62,0.10 0.91,-0.28 M1.0,-1 L0.91,-0.12 Q0.90,0.03 1.0,0.0 L1.14,-0.16" transform="translate(401.60,233.50) scale(8.6)" fill="none" stroke="#000000" stroke-width="0.1977" stroke-linecap="butt" stroke-linejoin="round"/>
<g style="font-family:Liberation Sans;font-size:16px;font-weight:bold;font-style:normal" fill="#000000" transform="translate(0,243.10) scale(1,1.04) translate(0,-243.10)"><text x="414.05" y="243.10">s</text></g>
<g style="font-family:Liberation Sans;font-size:21px;font-weight:bold;font-style:normal" fill="#000000" transform="translate(0,233.50) scale(1,1.05) translate(0,-233.50)"><text x="423.40" y="233.50">'</text></g>
<g style="font-family:Liberation Sans;font-size:21px;font-weight:bold;font-style:normal" fill="#000000" transform="translate(0,233.50) scale(1,1.05) translate(0,-233.50)"><text x="434.05" y="233.50">=</text></g>
<g style="font-family:Liberation Sans;font-size:21px;font-weight:bold;font-style:normal" fill="#000000" transform="translate(0,233.50) scale(1,1.05) translate(0,-233.50)"><text x="463.68" y="233.50">5.</text></g>
<text x="451.68" y="233.50" style="font-family:Liberation Sans;font-size:21px;font-weight:bold;font-style:normal" fill="#000000" clip-path="url(#c1)">1</text>
<text x="480.87" y="233.50" style="font-family:Liberation Sans;font-size:21px;font-weight:bold;font-style:normal" fill="#000000" clip-path="url(#c1)">1</text>
<g style="font-family:Liberation Sans;font-size:21px;font-weight:bold;font-style:normal" fill="#000000" transform="translate(0,233.50) scale(1,1.05) translate(0,-233.50)"><text x="496.95" y="233.50">cm</text></g>
<g style="font-family:Liberation Sans;font-size:16px;font-weight:bold;font-style:normal" fill="#000000" transform="translate(0,223.00) scale(1,1.04) translate(0,-223.00)"><text x="527.75" y="223.00">-</text></g>
<text x="532.76" y="223.00" style="font-family:Liberation Sans;font-size:16px;font-weight:bold;font-style:normal" fill="#000000" clip-path="url(#c1)">1</text>
<g style="font-family:Liberation Sans;font-size:21px;font-weight:bold;font-style:normal" fill="#000000" transform="translate(0,227.00) scale(1,1.07) translate(0,-227.00)"><text x="543.60" y="233.50">)</text></g>
<path d="M0.27,-1 L-0.14,0.49 M0.06,-0.22 C0.04,0.06 0.62,0.10 0.91,-0.28 M1.0,-1 L0.91,-0.12 Q0.90,0.03 1.0,0.0 L1.14,-0.16" transform="translate(277.50,583.40) scale(11.3)" fill="none" stroke="#262626" stroke-width="0.1416" stroke-linecap="butt" stroke-linejoin="round"/>
<g style="font-family:Liberation Sans;font-size:20.3px;font-weight:normal;font-style:normal" fill="#262626"><text x="292.25" y="595.40">a</text></g>
<g style="font-family:Liberation Sans;font-size:26px;font-weight:normal;font-style:normal" fill="#262626"><text x="312.00" y="583.30">(</text></g>
<g style="font-family:Liberation Sans;font-size:26px;font-weight:normal;font-style:normal" fill="#262626"><text x="320.00" y="583.30">cm</text></g>
<g style="font-family:Liberation Sans;font-size:20.3px;font-weight:normal;font-style:normal" fill="#262626"><text x="356.00" y="570.60">-</text></g>
<text x="363.27" y="570.60" style="font-family:Liberation Sans;font-size:20.300px;font-weight:normal;font-style:normal" fill="#262626" clip-path="url(#c1)">1</text>
<g style="font-family:Liberation Sans;font-size:26px;font-weight:normal;font-style:normal" fill="#262626"><text x="375.95" y="583.30">)</text></g>
<g transform="translate(24.9,400.0) rotate(-90)" fill="#262626"><text x="-0.75" y="0" style="font-family:Liberation Sans;font-size:26.3px;font-weight:bold;font-style:normal">SVD or SVD</text><text x="148.45" y="13.4" style="font-family:Liberation Sans;font-size:21px;font-weight:bold;font-style:normal">corr</text><text x="196.65" y="0" style="font-family:Liberation Sans;font-size:26.3px;font-weight:bold;font-style:normal">(a.u.)</text></g>
</svg>
</body></html>
